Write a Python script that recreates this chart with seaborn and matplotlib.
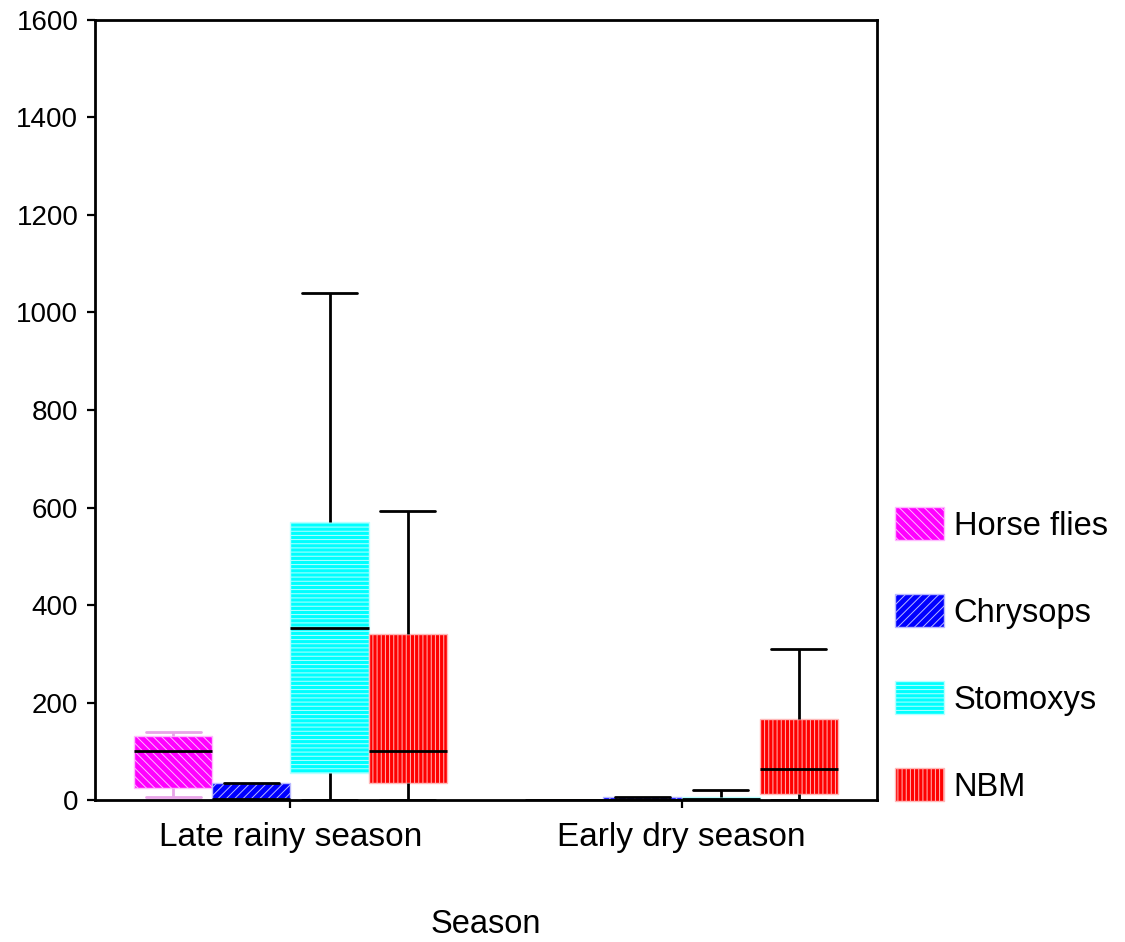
import matplotlib
matplotlib.use("Agg")
import matplotlib.pyplot as plt
import numpy as np
import pandas as pd
import seaborn as sns
from matplotlib.patches import Patch
from matplotlib.colors import to_rgb

# Categories
seasons = ["Late rainy season", "Early dry season"]
groups = ["Horse flies", "Chrysops", "Stomoxys", "NBM"]

# Five-number summaries (min, Q1, median, Q3, max) per season
horse_flies = [[6, 25, 100, 131, 139], [0, 0, 0, 0, 0]]
chrysops = [[0, 3, 3, 34, 34], [0, 0, 0, 6, 6]]
stomoxys = [[0, 56, 352, 570, 1040], [0, 0, 3, 6, 20]]
nbm = [[0, 35, 100, 340, 593], [0, 13, 64, 166, 310]]

y_ticks = [0, 200, 400, 600, 800, 1000, 1200, 1400, 1600]

colors = ["#ff00ff", "#0000ff", "#00ffff", "#ff0000"]
hatches = ["\\\\\\\\", "////", "----", "||||"]

sns.set_style("white")
plt.rcParams["font.family"] = ["Liberation Sans", "DejaVu Sans"]
plt.rcParams["hatch.linewidth"] = 0.7
plt.rcParams["text.color"] = "black"
plt.rcParams["axes.labelcolor"] = "black"
plt.rcParams["xtick.color"] = "black"
plt.rcParams["ytick.color"] = "black"


def pale(c, k=0.72):
    r, g, b = to_rgb(c)
    return (r + (1 - r) * k, g + (1 - g) * k, b + (1 - b) * k)


rows = []
for g, summ in zip(groups, [horse_flies, chrysops, stomoxys, nbm]):
    for s, vals in zip(seasons, summ):
        for v in vals:
            rows.append({"Season": s, "Group": g, "Count": v})
df = pd.DataFrame(rows)

fig = plt.figure(figsize=(11.25, 9.42), dpi=100)
ax = fig.add_axes([0.0844, 0.1507, 0.6952, 0.8281])

sns.boxplot(
    data=df, x="Season", y="Count", hue="Group",
    order=seasons, hue_order=groups, palette=colors, saturation=1,
    whis=(0, 100), showfliers=False, width=0.8, gap=0,
    linecolor="black", linewidth=2, legend=False, ax=ax,
)

# Hatched, pale-edged boxes; wider caps; pink whiskers for horse flies
for i, cont in enumerate(ax.containers[:len(groups)]):
    for box in cont.boxes:
        box.set_edgecolor(pale(colors[i]))
        box.set_hatch(hatches[i])
        box.set_linewidth(1.0)
    for cap in cont.caps:
        xd = np.asarray(cap.get_xdata(), dtype=float)
        c = xd.mean()
        cap.set_xdata(c + (xd - c) * 1.4)
    if i == 0:
        for ln in list(cont.whiskers) + list(cont.caps):
            ln.set_color("#e8a4e8")

ax.set_xlim(-0.5, 1.5)
ax.set_ylim(0, 1600)
ax.set_yticks(y_ticks)
ax.set_yticklabels([str(t) for t in y_ticks], fontsize=20)
ax.set_xticks(range(len(seasons)))
ax.set_xticklabels(seasons, fontsize=24)
ax.set_ylabel("")
ax.set_xlabel("Season", fontsize=23.5, labelpad=40)
ax.tick_params(axis="both", direction="out", length=6, width=1.6,
               color="black", left=True, bottom=True)
ax.tick_params(axis="y", pad=6)
ax.tick_params(axis="x", pad=10)
for sp in ax.spines.values():
    sp.set_visible(True)
    sp.set_color("black")
    sp.set_linewidth(2)

handles = [
    Patch(facecolor=c, edgecolor=pale(c), hatch=h, linewidth=1.0)
    for c, h in zip(colors, hatches)
]
fig.legend(
    handles, groups, loc="center left", bbox_to_anchor=(0.7956, 0.305),
    frameon=False, fontsize=23.5, handlelength=1.5, handleheight=1.2,
    handletextpad=0.3, labelspacing=1.6, borderpad=0, borderaxespad=0,
)

fig.savefig("out.png", dpi=100)
